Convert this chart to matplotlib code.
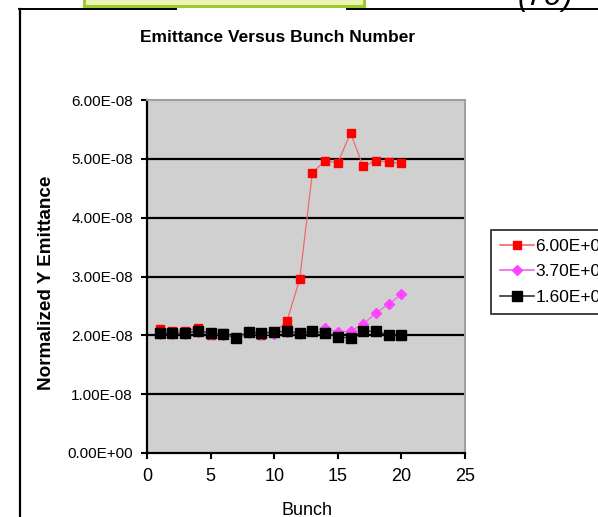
import matplotlib
matplotlib.use("Agg")
import matplotlib.pyplot as plt
from matplotlib.patches import Rectangle
from matplotlib.lines import Line2D

bunch = list(range(1, 21))
red_6e9 = [2.10, 2.08, 2.08, 2.12, 2.00, 2.04, 1.96, 2.05, 2.00, 2.05,
           2.24, 2.95, 4.76, 4.97, 4.93, 5.44, 4.87, 4.97, 4.94, 4.93]
mag_37e9 = [2.03, 2.03, 2.03, 2.06, 2.02, 2.01, 1.95, 2.04, 2.02, 2.03,
            2.05, 2.02, 2.08, 2.12, 2.06, 2.07, 2.19, 2.38, 2.53, 2.70]
blk_16e9 = [2.04, 2.04, 2.04, 2.08, 2.04, 2.02, 1.96, 2.06, 2.04, 2.06,
            2.07, 2.04, 2.07, 2.04, 1.98, 1.95, 2.07, 2.07, 2.01, 2.01]
scale = 1e-8
labels = ["6.00E+09", "3.70E+09", "1.60E+09"]
yticks = [0, 1e-8, 2e-8, 3e-8, 4e-8, 5e-8, 6e-8]
ytick_labels = ["0.00E+00", "1.00E-08", "2.00E-08", "3.00E-08", "4.00E-08", "5.00E-08", "6.00E-08"]
xticks = [0, 5, 10, 15, 20, 25]

W, H = 598, 517
fig = plt.figure(figsize=(W / 100, H / 100), dpi=100)
fig.patch.set_facecolor("white")

REG = ["Liberation Sans", "DejaVu Sans"]

def fx(px):
    return px / W

def fy(py):
    return 1 - py / H

# slide decorations: frame lines and green box
fig.add_artist(Line2D([fx(20), fx(20)], [fy(9), fy(517)], color="black", lw=1.6))
fig.add_artist(Line2D([fx(19), fx(176)], [fy(9), fy(9)], color="black", lw=1.4))
fig.add_artist(Line2D([fx(347), fx(598)], [fy(9), fy(9)], color="black", lw=1.4))
fig.add_artist(Rectangle((fx(84), fy(6)), fx(280), 6 / H + 0.01, facecolor="#eaf4b4",
                         edgecolor="#9ccc2c", lw=2.2, transform=fig.transFigure))
fig.text(fx(545), fy(-3), "(7σ)", fontsize=22, style="italic", family=REG,
         ha="center", va="center", color="black")

ax = fig.add_axes([fx(147), fy(453), fx(465) - fx(147), (453 - 100) / H])
ax.set_facecolor("#d0d0d0")
ax.set_xlim(0, 25)
ax.set_ylim(0, 6e-8)

for y in yticks[1:-1]:
    ax.axhline(y, color="black", lw=1.6, zorder=1)

ax.plot(bunch, [v * scale for v in red_6e9], color="#f06a6a", lw=0.9, marker="s",
        markersize=6.2, markerfacecolor="red", markeredgecolor="red", zorder=3, label=labels[0])
ax.plot(bunch, [v * scale for v in mag_37e9], color="#ee66ee", lw=0.9, marker="D",
        markersize=5.2, markerfacecolor="#ff44ff", markeredgecolor="#ff44ff", zorder=4, label=labels[1])
ax.plot(bunch, [v * scale for v in blk_16e9], color="#333333", lw=0.9, marker="s",
        markersize=6.6, markerfacecolor="black", markeredgecolor="black", zorder=5, label=labels[2])

ax.set_xticks(xticks)
ax.set_xticklabels([str(t) for t in xticks], family=REG, fontsize=13)
ax.set_yticks(yticks)
ax.set_yticklabels(ytick_labels, family=REG, fontsize=11)
ax.tick_params(axis="both", direction="out", length=4, width=1.5, color="black")
ax.tick_params(axis="y", pad=6)
ax.tick_params(axis="x", pad=7)

for s in ["top", "right"]:
    ax.spines[s].set_color("#a0a0a0")
    ax.spines[s].set_linewidth(1.5)
for s in ["left", "bottom"]:
    ax.spines[s].set_color("black")
    ax.spines[s].set_linewidth(1.6)

fig.text(fx(278), fy(38), "Emittance Versus Bunch Number", family=REG, fontsize=12.5,
         fontweight="bold", ha="center", va="center")
fig.text(fx(47), fy(283), "Normalized Y Emittance", family=REG, fontsize=13.6,
         fontweight="bold", ha="center", va="center", rotation=90)
fig.text(fx(307), fy(502), "Bunch", family=REG, fontsize=13, ha="center", va="top")

leg = fig.legend(loc="upper left", bbox_to_anchor=(fx(491), fy(230)),
                 bbox_transform=fig.transFigure, prop={"family": REG, "size": 12.5},
                 frameon=True, fancybox=False, edgecolor="black", handlelength=2.0,
                 handletextpad=0.05, labelspacing=0.6, borderpad=0.5, borderaxespad=0)
leg.get_frame().set_linewidth(1.3)
for line in leg.get_lines():
    line.set_linewidth(1.2)

fig.savefig("out.png", dpi=100)
